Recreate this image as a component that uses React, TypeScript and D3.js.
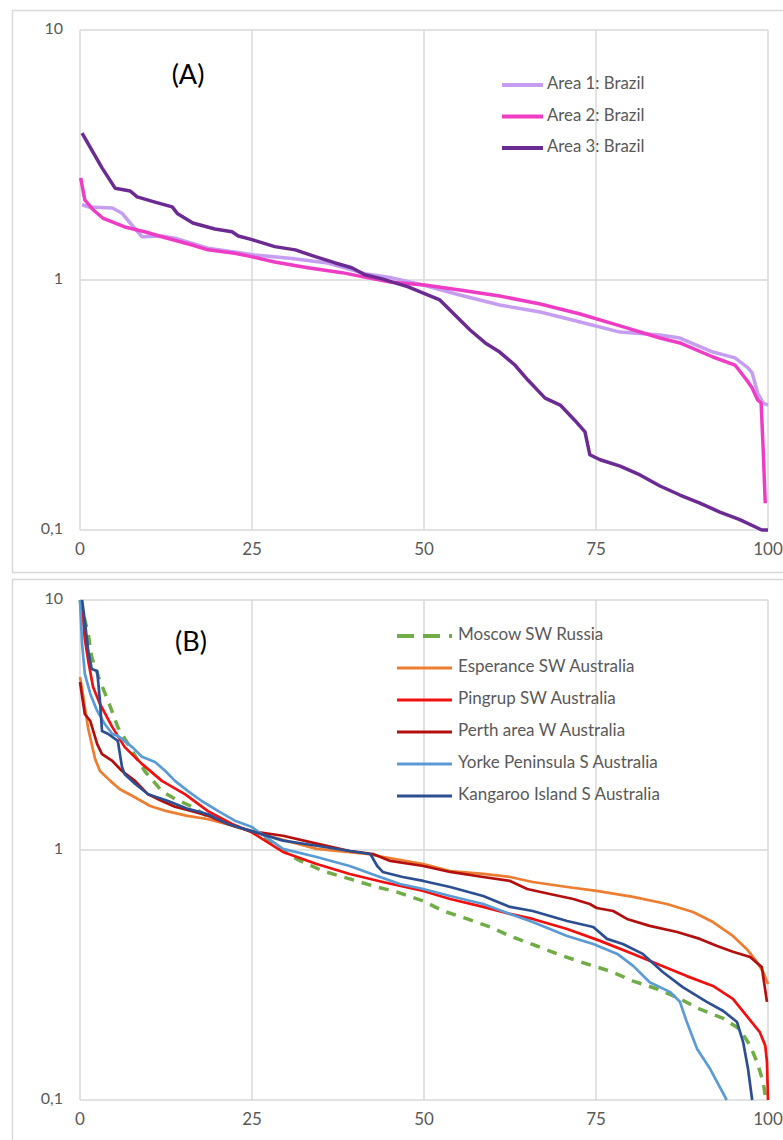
import React, { useEffect, useRef } from "react";
import * as d3 from "d3";

// x = % of time, y = relative value (log scale)
const xTicks = [0, 25, 50, 75, 100];
const yTicks = [10, 1, 0.1];
const yTickLabels = ["10", "1", "0,1"];

const area1: [number, number][] = [
  [0.3, 2.0], [1.2, 1.96], [4.7, 1.94], [6.1, 1.85], [7.3, 1.69], [9.0, 1.49], [11.9, 1.5],
  [13.8, 1.47], [18.6, 1.34], [25.4, 1.26], [30.8, 1.22], [36.0, 1.17], [41.4, 1.06],
  [45.3, 1.02], [49.9, 0.955], [55.2, 0.871], [61.0, 0.794], [66.9, 0.745], [72.7, 0.679],
  [78.5, 0.619], [84.3, 0.603], [87.2, 0.586], [92.0, 0.515], [95.2, 0.488], [97.1, 0.445],
  [97.7, 0.425], [98.5, 0.353], [99.3, 0.322], [100, 0.316]
];
const area2: [number, number][] = [
  [0.1, 2.56], [0.7, 2.09], [1.9, 1.91], [3.3, 1.77], [6.5, 1.63], [9.4, 1.56], [11.9, 1.49],
  [16.3, 1.38], [18.6, 1.32], [22.5, 1.28], [24.9, 1.24], [28.3, 1.18], [33.1, 1.12],
  [38.1, 1.07], [41.9, 1.02], [45.3, 0.98], [50.1, 0.955], [55.2, 0.912], [61.0, 0.863],
  [66.9, 0.802], [72.7, 0.731], [78.5, 0.655], [84.3, 0.586], [87.2, 0.56], [92.0, 0.492],
  [95.2, 0.457], [96.9, 0.398], [97.7, 0.37], [98.5, 0.331], [99.0, 0.322], [99.3, 0.209],
  [99.6, 0.128]
];
const area3: [number, number][] = [
  [0.3, 3.87], [3.2, 2.81], [5.1, 2.33], [7.3, 2.27], [8.3, 2.15], [10.9, 2.05], [13.4, 1.96],
  [14.2, 1.84], [16.4, 1.69], [19.6, 1.6], [22.1, 1.56], [23.0, 1.5], [25.0, 1.45], [28.3, 1.36],
  [31.3, 1.32], [34.2, 1.24], [37.1, 1.17], [39.5, 1.12], [41.4, 1.05], [43.9, 1.01],
  [47.7, 0.938], [49.9, 0.887], [52.3, 0.832], [54.5, 0.724], [56.7, 0.631], [58.9, 0.56],
  [61.0, 0.515], [63.2, 0.457], [65.1, 0.398], [67.6, 0.337], [69.8, 0.316], [71.9, 0.275],
  [73.4, 0.247], [74.1, 0.2], [75.6, 0.191], [78.5, 0.18], [81.4, 0.166], [84.3, 0.15],
  [87.2, 0.138], [90.1, 0.128], [93.0, 0.118], [95.9, 0.11], [98.1, 0.103], [99.1, 0.1], [100, 0.1]
];

const moscow: [number, number][] = [
  [0, 10], [1.2, 7.31], [1.7, 5.92], [2.9, 4.74], [4.1, 3.94], [5.5, 3.1], [7.6, 2.49],
  [9.4, 2.07], [11.9, 1.72], [13.8, 1.6], [16.3, 1.49], [18.6, 1.36], [21.5, 1.27], [24.9, 1.19],
  [31.5, 0.92], [35.3, 0.824], [39.2, 0.766], [42.6, 0.718], [46.1, 0.679], [49.9, 0.625],
  [52.8, 0.57], [56.3, 0.53], [59.6, 0.492], [62.5, 0.453], [66.4, 0.413], [69.8, 0.38],
  [73.7, 0.35], [77.0, 0.328], [80.4, 0.299], [83.9, 0.278], [87.2, 0.254], [90.1, 0.231],
  [93.5, 0.212], [95.9, 0.192], [97.4, 0.165], [98.4, 0.142], [99.3, 0.118], [99.6, 0.104]
];
const esperance: [number, number][] = [
  [0, 4.92], [0.3, 4.41], [1.2, 3.05], [2.2, 2.31], [2.9, 2.07], [4.4, 1.89], [5.8, 1.75],
  [7.7, 1.64], [10.2, 1.5], [12.6, 1.43], [15.6, 1.37], [18.5, 1.33], [22.2, 1.25], [24.7, 1.19],
  [34.4, 1.01], [41.7, 0.964], [49.9, 0.879], [53.8, 0.824], [58.6, 0.802], [62.5, 0.78],
  [65.8, 0.745], [70.8, 0.711], [75.1, 0.686], [80.4, 0.649], [85.3, 0.608], [89.1, 0.565],
  [92.0, 0.515], [94.9, 0.453], [96.9, 0.402], [98.4, 0.356], [99.3, 0.325], [100, 0.291]
];
const pingrup: [number, number][] = [
  [0.3, 9.38], [0.7, 6.98], [1.2, 5.7], [1.9, 4.49], [2.9, 3.84], [4.7, 3.1], [6.5, 2.58],
  [9.0, 2.21], [11.9, 1.89], [15.3, 1.67], [18.6, 1.43], [22.1, 1.27], [24.9, 1.18], [29.5, 0.982],
  [34.4, 0.879], [39.2, 0.802], [44.0, 0.745], [49.9, 0.686], [53.8, 0.637], [58.6, 0.592],
  [62.5, 0.555], [65.8, 0.53], [70.8, 0.483], [75.6, 0.433], [80.4, 0.384], [83.3, 0.356],
  [88.2, 0.313], [92.0, 0.286], [94.9, 0.254], [96.9, 0.217], [98.8, 0.187], [99.6, 0.165],
  [99.85, 0.142], [100, 0.1]
];
const perth: [number, number][] = [
  [0, 4.7], [0.7, 3.5], [1.5, 3.28], [2.5, 2.65], [3.2, 2.42], [4.7, 2.27], [6.1, 2.07],
  [8.0, 1.89], [9.9, 1.67], [11.9, 1.57], [13.8, 1.49], [16.3, 1.43], [18.6, 1.37], [21.5, 1.27],
  [24.9, 1.19], [29.5, 1.14], [34.4, 1.06], [39.2, 0.991], [42.6, 0.964], [45.1, 0.904],
  [49.9, 0.863], [53.8, 0.817], [58.6, 0.78], [62.5, 0.752], [65.0, 0.698], [68.3, 0.667],
  [71.7, 0.637], [74.1, 0.608], [75.1, 0.586], [77.5, 0.57], [79.5, 0.53], [82.8, 0.497],
  [86.8, 0.47], [90.1, 0.441], [92.6, 0.413], [94.9, 0.392], [97.4, 0.373], [99.1, 0.34],
  [99.85, 0.247]
];
const yorke: [number, number][] = [
  [0, 10], [0.3, 6.67], [0.7, 5.06], [1.5, 4.21], [2.5, 3.6], [3.6, 3.19], [4.7, 2.91],
  [5.5, 2.86], [7.6, 2.58], [9.0, 2.36], [10.9, 2.25], [12.4, 2.07], [13.8, 1.89], [15.7, 1.72],
  [17.7, 1.57], [20.1, 1.43], [22.5, 1.31], [24.9, 1.24], [29.5, 1.01], [34.4, 0.938],
  [39.2, 0.863], [43.2, 0.787], [46.5, 0.731], [49.9, 0.698], [53.8, 0.655], [58.6, 0.608],
  [62.5, 0.555], [65.8, 0.515], [70.8, 0.453], [74.6, 0.421], [78.1, 0.384], [80.4, 0.344],
  [82.8, 0.296], [85.8, 0.27], [87.2, 0.247], [88.2, 0.205], [89.7, 0.16], [91.6, 0.133],
  [94.0, 0.1]
];
const kangaroo: [number, number][] = [
  [0.3, 10], [0.7, 8.24], [1.2, 6.25], [1.7, 5.3], [2.5, 5.2], [2.9, 3.94], [3.2, 2.99],
  [4.1, 2.91], [5.5, 2.73], [6.1, 2.15], [6.5, 2.01], [8.0, 1.84], [9.9, 1.67], [12.8, 1.57],
  [15.7, 1.46], [18.6, 1.39], [21.5, 1.27], [24.9, 1.19], [29.5, 1.09], [34.4, 1.04],
  [39.2, 0.991], [42.2, 0.964], [43.2, 0.863], [44.0, 0.817], [46.9, 0.78], [49.9, 0.752],
  [53.8, 0.711], [58.6, 0.655], [62.5, 0.592], [65.8, 0.57], [70.8, 0.52], [74.6, 0.492],
  [76.6, 0.441], [78.9, 0.421], [81.8, 0.384], [84.7, 0.325], [87.6, 0.283], [91.1, 0.247],
  [93.5, 0.227], [95.5, 0.205], [96.4, 0.17], [97.1, 0.133], [97.7, 0.1]
];

const seriesA = [
  { name: "Area 1: Brazil", data: area1, color: "#c59df1", width: 3.5, dash: null },
  { name: "Area 2: Brazil", data: area2, color: "#ef3cc4", width: 3.5, dash: null },
  { name: "Area 3: Brazil", data: area3, color: "#6c2b93", width: 3.5, dash: null }
];
const seriesB = [
  { name: "Moscow SW Russia", data: moscow, color: "#70ad47", width: 3.5, dash: "10,8" },
  { name: "Esperance SW Australia", data: esperance, color: "#ed7d31", width: 2.7, dash: null },
  { name: "Pingrup SW Australia", data: pingrup, color: "#f01010", width: 2.7, dash: null },
  { name: "Perth area W Australia", data: perth, color: "#b40f0f", width: 2.7, dash: null },
  { name: "Yorke Peninsula S Australia", data: yorke, color: "#5b9bd5", width: 2.7, dash: null },
  { name: "Kangaroo Island S Australia", data: kangaroo, color: "#2c4f91", width: 2.7, dash: null }
];

const W = 783;
const H = 1140;
const FONT = "Lato, 'Open Sans', sans-serif";

const drawPanel = (svg, cfg) => {
  const { boxTop, boxBottom, top, bottom, label, labelX, labelY, series, legend } = cfg;
  const x = d3.scaleLinear().domain([0, 100]).range([80, 768]);
  const y = d3.scaleLog().domain([0.1, 10]).range([bottom, top]);
  const g = svg.append("g");

  g.append("rect")
    .attr("x", 12.5).attr("y", boxTop + 0.5)
    .attr("width", 800).attr("height", boxBottom - boxTop)
    .attr("fill", "#fff").attr("stroke", "#d9d9d9").attr("stroke-width", 1.5);

  // grid
  g.selectAll(".vg").data(xTicks).join("line")
    .attr("x1", (d) => x(d)).attr("x2", (d) => x(d))
    .attr("y1", top).attr("y2", bottom)
    .attr("stroke", "#d9d9d9").attr("stroke-width", 1.5);
  g.selectAll(".hg").data(yTicks).join("line")
    .attr("x1", x(0)).attr("x2", x(100))
    .attr("y1", (d) => y(d)).attr("y2", (d) => y(d))
    .attr("stroke", "#d9d9d9").attr("stroke-width", 1.5);

  g.selectAll(".xl").data(xTicks).join("text")
    .attr("x", (d) => x(d)).attr("y", bottom + 21)
    .attr("text-anchor", "middle").attr("dominant-baseline", "middle")
    .attr("font-family", FONT).attr("font-size", 17).attr("fill", "#595959")
    .text((d) => d);
  g.selectAll(".yl").data(yTicks).join("text")
    .attr("x", 63).attr("y", (d) => y(d))
    .attr("text-anchor", "end").attr("dominant-baseline", "middle")
    .attr("font-family", FONT).attr("font-size", 16).attr("fill", "#595959")
    .text((d, i) => yTickLabels[i]);

  const line = d3.line().x((d) => x(d[0])).y((d) => y(d[1]));
  const clipId = "clip" + top;
  g.append("clipPath").attr("id", clipId).append("rect")
    .attr("x", x(0) - 2).attr("y", top - 4).attr("width", x(100) - x(0) + 4).attr("height", bottom - top + 6);
  g.append("g").attr("clip-path", `url(#${clipId})`)
    .selectAll("path").data(series).join("path")
    .attr("d", (s) => line(s.data))
    .attr("fill", "none")
    .attr("stroke", (s) => s.color)
    .attr("stroke-width", (s) => s.width)
    .attr("stroke-dasharray", (s) => s.dash)
    .attr("stroke-linejoin", "round");

  g.append("text")
    .attr("x", labelX).attr("y", labelY).attr("text-anchor", "middle")
    .attr("font-family", FONT).attr("font-size", 27).attr("fill", "#000")
    .text(label);

  const lg = g.selectAll(".leg").data(series).join("g")
    .attr("transform", (s, i) => `translate(${legend.x},${legend.y + i * legend.step})`);
  lg.append("line")
    .attr("x1", 0).attr("x2", legend.len).attr("y1", 0).attr("y2", 0)
    .attr("stroke", (s) => s.color)
    .attr("stroke-width", (s) => s.width + 0.3)
    .attr("stroke-dasharray", (s) => (s.dash ? "17,9" : null));
  lg.append("text")
    .attr("x", legend.len + legend.gap).attr("y", 0)
    .attr("dominant-baseline", "middle")
    .attr("font-family", FONT).attr("font-size", legend.size).attr("fill", "#595959")
    .text((s) => s.name);
};

export default function App() {
  const svgRef = useRef(null);
  useEffect(() => {
    const svg = d3.select(svgRef.current);
    svg.selectAll("*").remove();
    drawPanel(svg, {
      boxTop: 10, boxBottom: 572, top: 30, bottom: 530,
      label: "(A)", labelX: 188, labelY: 84, series: seriesA,
      legend: { x: 502, y: 85, step: 31.5, len: 41, gap: 4, size: 16.8 }
    });
    drawPanel(svg, {
      boxTop: 579, boxBottom: 1160, top: 600, bottom: 1100,
      label: "(B)", labelX: 191, labelY: 651, series: seriesB,
      legend: { x: 397, y: 636, step: 32, len: 55, gap: 6, size: 17 }
    });
  }, []);
  return (
    <svg ref={svgRef} width={W} height={H}
      style={{ position: "absolute", left: 0, top: 0, background: "#fff" }} />
  );
}
